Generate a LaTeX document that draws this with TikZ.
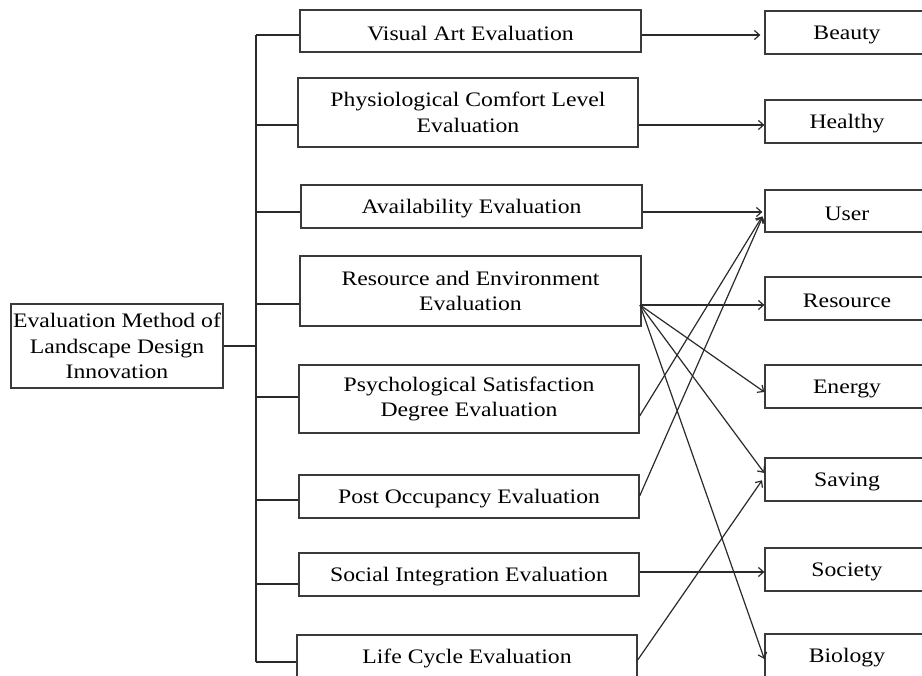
\documentclass[tikz,border=0pt]{standalone}
\usepackage{fontspec}
\setmainfont{Liberation Serif}[FakeStretch=1.15]
\usetikzlibrary{arrows.meta}
\definecolor{boxc}{HTML}{3A3A3A}
\definecolor{linec}{HTML}{2A2A2A}
\begin{document}
\begin{tikzpicture}[x=1pt,y=-1pt,
  box/.style={draw=boxc, line width=1.3pt, inner sep=0pt, align=center,
    font=\fontsize{20.6}{25.5}\selectfont,
    execute at begin node={\rule{0pt}{18.5pt}}},
  midbox/.style={box, minimum width=340pt},
  rbox/.style={box, minimum width=164pt, minimum height=43pt},
  conn/.style={draw=linec, line width=1.2pt},
  arr/.style={conn, -{Straight Barb[length=5pt,width=9pt]}}]
\useasboundingbox (0,0) rectangle (922,676);
\clip (0,0) rectangle (922,676);

% root
\node[box, minimum width=212pt, minimum height=84pt] (root) at (117,346)
  {Evaluation Method of\\Landscape Design\\Innovation};

% middle column
\node[midbox, minimum width=341pt, minimum height=42pt] (va) at (470.5,31) {Visual Art Evaluation};
\node[midbox, minimum height=69pt] (pc) at (468,112.5) {Physiological Comfort Level\\Evaluation};
\node[midbox, minimum width=341pt, minimum height=43pt] (av) at (471.5,206.5) {Availability Evaluation};
\node[midbox, minimum width=341pt, minimum height=70pt] (re) at (470.5,291) {Resource and Environment\\Evaluation};
\node[midbox, minimum height=68pt] (ps) at (469,399) {Psychological Satisfaction\\Degree Evaluation};
\node[midbox, minimum height=43pt] (po) at (469,496.5) {Post Occupancy Evaluation};
\node[midbox, minimum height=43pt] (si) at (469,574.5) {Social Integration Evaluation};
\node[midbox, minimum height=42pt] (lc) at (467,656) {Life Cycle Evaluation};

% right column
\node[rbox] (beauty) at (847,32.5) {Beauty};
\node[rbox] (healthy) at (847,121.5) {Healthy};
\node[rbox, minimum height=42pt] (user) at (847,211) {User};
\node[rbox] (resource) at (847,298.5) {Resource};
\node[rbox] (energy) at (847,386.5) {Energy};
\node[rbox] (saving) at (847,479.5) {Saving};
\node[rbox] (society) at (847,569.5) {Society};
\node[rbox] (biology) at (847,655.5) {Biology};

% tree trunk and branches
\coordinate (tt) at (256,35);
\coordinate (tb) at (256,662);
\draw[conn] (tt) -- (tb);
\draw[conn] (root.east) -- (root.east -| tt);
\draw[conn] (tt) -- (tt -| va.west);
\draw[conn] (tt |- 0,125) -- (pc.west |- 0,125);
\draw[conn] (tt |- 0,212) -- (av.west |- 0,212);
\draw[conn] (tt |- 0,304) -- (re.west |- 0,304);
\draw[conn] (tt |- 0,397) -- (ps.west |- 0,397);
\draw[conn] (tt |- 0,500) -- (po.west |- 0,500);
\draw[conn] (tt |- 0,584) -- (si.west |- 0,584);
\draw[conn] (tb) -- (tb -| lc.west);

% arrows
\draw[arr, shorten >=4pt] (va.east |- 0,35) -- (beauty.west |- 0,35);
\draw[arr] (pc.east |- 0,125) -- (healthy.west |- 0,125);
\draw[arr, shorten >=2pt] (av.east |- 0,212) -- (user.west |- 0,212);
\coordinate (rs) at (640,305);
\draw[arr] (rs) -- (resource.west |- 0,305);
\draw[arr] (rs) -- (energy.west |- 0,392);
\draw[arr] (rs) -- (saving.west |- 0,473);
\draw[arr] (rs) -- (biology.west |- 0,659);
\draw[arr, shorten >=4pt] (ps.east |- 0,416) -- (user.west |- 0,213);
\draw[arr, shorten >=4pt] (po.east |- 0,496) -- (user.west |- 0,213);
\draw[arr] (si.east |- 0,572) -- (society.west |- 0,572);
\draw[arr, shorten >=4pt] (lc.east |- 0,660) -- (saving.west |- 0,477);
\end{tikzpicture}
\end{document}
